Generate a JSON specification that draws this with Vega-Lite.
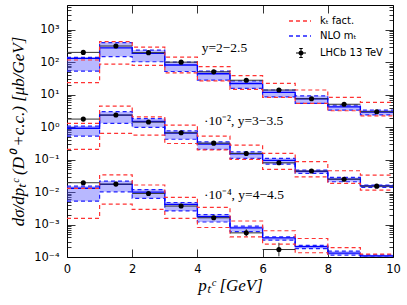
{
  "$schema": "https://vega.github.io/schema/vega-lite/v6.json",
  "width": 326,
  "height": 252,
  "autosize": {"type": "none"},
  "padding": {"left": 67, "top": 5, "right": 14, "bottom": 48},
  "background": "white",
  "data": {"values": [
    {"g": 1, "x0": 0, "x1": 1, "xc": 0.5, "d": 204, "dlo": 190, "dhi": 219, "lo": 54.3, "hi": 143.5, "c": 134, "rlo": 23.7, "rhi": 118.6},
    {"g": 1, "x0": 1, "x1": 2, "xc": 1.5, "d": 321, "dlo": 300, "dhi": 342, "lo": 151, "hi": 407, "c": 282, "rlo": 89.1, "rhi": 437},
    {"g": 1, "x0": 2, "x1": 3, "xc": 2.5, "d": 200, "dlo": 187, "dhi": 213, "lo": 105, "hi": 240, "c": 191, "rlo": 81.3, "rhi": 295},
    {"g": 1, "x0": 3, "x1": 4, "xc": 3.5, "d": 102, "dlo": 95.5, "dhi": 109, "lo": 52.5, "hi": 102, "c": 83.2, "rlo": 47.9, "rhi": 145},
    {"g": 1, "x0": 4, "x1": 5, "xc": 4.5, "d": 51.3, "dlo": 48, "dhi": 55, "lo": 28.6, "hi": 54.3, "c": 44.7, "rlo": 26.9, "rhi": 74.1},
    {"g": 1, "x0": 5, "x1": 6, "xc": 5.5, "d": 28.2, "dlo": 26.4, "dhi": 30.1, "lo": 15.8, "hi": 26.9, "c": 22.4, "rlo": 14.8, "rhi": 38.9},
    {"g": 1, "x0": 6, "x1": 7, "xc": 6.5, "d": 14.1, "dlo": 13.2, "dhi": 15.1, "lo": 8.71, "hi": 14.1, "c": 12.0, "rlo": 8.32, "rhi": 22.6},
    {"g": 1, "x0": 7, "x1": 8, "xc": 7.5, "d": 7.59, "dlo": 7.1, "dhi": 8.1, "lo": 5.5, "hi": 9.33, "c": 7.59, "rlo": 5.5, "rhi": 14.1},
    {"g": 1, "x0": 8, "x1": 9, "xc": 8.5, "d": 5.13, "dlo": 4.8, "dhi": 5.5, "lo": 3.39, "hi": 4.79, "c": 4.27, "rlo": 3.24, "rhi": 8.32},
    {"g": 1, "x0": 9, "x1": 10, "xc": 9.5, "d": 3.02, "dlo": 2.83, "dhi": 3.23, "lo": 2.4, "hi": 3.39, "c": 2.95, "rlo": 2.24, "rhi": 5.89},
    {"g": 1, "x0": 10, "lo": 2.4, "hi": 3.39, "c": 2.95, "rlo": 2.24, "rhi": 5.89},
    {"g": 2, "x0": 0, "x1": 1, "xc": 0.5, "d": 1.79, "dlo": 1.67, "dhi": 1.91, "lo": 0.537, "hi": 1.09, "c": 0.933, "rlo": 0.209, "rhi": 1.32},
    {"g": 2, "x0": 1, "x1": 2, "xc": 1.5, "d": 2.38, "dlo": 2.22, "dhi": 2.54, "lo": 1.32, "hi": 3.02, "c": 2.38, "rlo": 0.646, "rhi": 4.51},
    {"g": 2, "x0": 2, "x1": 3, "xc": 2.5, "d": 1.45, "dlo": 1.35, "dhi": 1.55, "lo": 1.0, "hi": 1.86, "c": 1.51, "rlo": 0.575, "rhi": 2.09},
    {"g": 2, "x0": 3, "x1": 4, "xc": 3.5, "d": 0.676, "dlo": 0.63, "dhi": 0.72, "lo": 0.427, "hi": 0.776, "c": 0.661, "rlo": 0.316, "rhi": 1.17},
    {"g": 2, "x0": 4, "x1": 5, "xc": 4.5, "d": 0.324, "dlo": 0.302, "dhi": 0.346, "lo": 0.209, "hi": 0.355, "c": 0.302, "rlo": 0.2, "rhi": 0.537},
    {"g": 2, "x0": 5, "x1": 6, "xc": 5.5, "d": 0.156, "dlo": 0.146, "dhi": 0.167, "lo": 0.11, "hi": 0.175, "c": 0.151, "rlo": 0.102, "rhi": 0.282},
    {"g": 2, "x0": 6, "x1": 7, "xc": 6.5, "d": 0.0804, "dlo": 0.075, "dhi": 0.086, "lo": 0.0731, "hi": 0.11, "c": 0.0955, "rlo": 0.0501, "rhi": 0.156},
    {"g": 2, "x0": 7, "x1": 8, "xc": 7.5, "d": 0.0447, "dlo": 0.0418, "dhi": 0.0478, "lo": 0.038, "hi": 0.0479, "c": 0.0437, "rlo": 0.0295, "rhi": 0.0871},
    {"g": 2, "x0": 8, "x1": 9, "xc": 8.5, "d": 0.0251, "dlo": 0.0235, "dhi": 0.0268, "lo": 0.0209, "hi": 0.0284, "c": 0.0251, "rlo": 0.0186, "rhi": 0.0457},
    {"g": 2, "x0": 9, "x1": 10, "xc": 9.5, "d": 0.0153, "dlo": 0.0143, "dhi": 0.0164, "lo": 0.014, "hi": 0.0166, "c": 0.0155, "rlo": 0.0115, "rhi": 0.0335},
    {"g": 2, "x0": 10, "lo": 0.014, "hi": 0.0166, "c": 0.0155, "rlo": 0.0115, "rhi": 0.0335},
    {"g": 3, "x0": 0, "x1": 1, "xc": 0.5, "d": 0.0195, "dlo": 0.0182, "dhi": 0.0209, "lo": 0.00525, "hi": 0.0153, "c": 0.0132, "rlo": 0.00155, "rhi": 0.013},
    {"g": 3, "x0": 1, "x1": 2, "xc": 1.5, "d": 0.0177, "dlo": 0.0165, "dhi": 0.0189, "lo": 0.0102, "hi": 0.0219, "c": 0.0174, "rlo": 0.00427, "rhi": 0.0342},
    {"g": 3, "x0": 2, "x1": 3, "xc": 2.5, "d": 0.00912, "dlo": 0.0085, "dhi": 0.0098, "lo": 0.00646, "hi": 0.012, "c": 0.01, "rlo": 0.00295, "rhi": 0.0166},
    {"g": 3, "x0": 3, "x1": 4, "xc": 3.5, "d": 0.00372, "dlo": 0.00345, "dhi": 0.004, "lo": 0.00263, "hi": 0.00479, "c": 0.00417, "rlo": 0.00155, "rhi": 0.00692},
    {"g": 3, "x0": 4, "x1": 5, "xc": 4.5, "d": 0.00162, "dlo": 0.00148, "dhi": 0.00177, "lo": 0.0012, "hi": 0.00204, "c": 0.00174, "rlo": 0.000813, "rhi": 0.00339},
    {"g": 3, "x0": 5, "x1": 6, "xc": 5.5, "d": 0.000555, "dlo": 0.000437, "dhi": 0.000724, "lo": 0.000603, "hi": 0.000891, "c": 0.000794, "rlo": 0.000417, "rhi": 0.00129},
    {"g": 3, "x0": 6, "x1": 7, "xc": 6.5, "d": 0.00017, "dlo": 0.000105, "dhi": 0.000275, "lo": 0.000331, "hi": 0.000417, "c": 0.000389, "rlo": 0.000251, "rhi": 0.000646},
    {"g": 3, "x0": 7, "x1": 8, "lo": 0.000182, "hi": 0.000229, "c": 0.000209, "rlo": 0.000135, "rhi": 0.000372},
    {"g": 3, "x0": 8, "x1": 9, "lo": 0.000115, "hi": 0.000151, "c": 0.000132, "rlo": 0.00009, "rhi": 0.000195},
    {"g": 3, "x0": 9, "x1": 10, "lo": 0.0001, "hi": 0.000117, "c": 0.000108, "rlo": 0.00008, "rhi": 0.000123},
    {"g": 3, "x0": 10, "lo": 0.0001, "hi": 0.000117, "c": 0.000108, "rlo": 0.00008, "rhi": 0.000123}
  ]},
  "config": {
    "view": {"stroke": "black", "strokeWidth": 1},
    "axis": {"domain": false, "grid": false, "tickColor": "black", "tickWidth": 0.8, "labelColor": "black", "labelFont": "DejaVu Sans", "labelFontSize": 11.5, "titleFont": "Liberation Serif", "titleFontStyle": "italic", "titleFontWeight": "normal", "titleFontSize": 17, "titleColor": "black"},
    "legend": {"labelFont": "DejaVu Sans", "labelFontSize": 10, "labelColor": "black", "padding": 0}
  },
  "resolve": {"axis": {"x": "independent", "y": "independent"}, "scale": {"x": "shared", "y": "shared"}},
  "layer": [
    {
      "transform": [{"filter": "isValid(datum.x1)"}],
      "mark": {"type": "rect", "color": "#5555ff", "opacity": 0.42, "clip": true},
      "encoding": {
        "x": {"field": "x0", "type": "quantitative", "scale": {"domain": [0, 10], "nice": false},
          "axis": {"orient": "bottom", "values": [0, 2, 4, 6, 8, 10], "tickSize": -8, "labelPadding": 14, "labelFlush": false, "title": "pₜᶜ  [GeV]", "titlePadding": 3}},
        "x2": {"field": "x1"},
        "y": {"field": "lo", "type": "quantitative", "scale": {"type": "log", "domain": [0.0001, 5900], "nice": false},
          "axis": {"orient": "left",
            "values": [0.0001, 0.0002, 0.0003, 0.0004, 0.0005, 0.0006, 0.0007, 0.0008, 0.0009, 0.001, 0.002, 0.003, 0.004, 0.005, 0.006, 0.007, 0.008, 0.009, 0.01, 0.02, 0.03, 0.04, 0.05, 0.06, 0.07, 0.08, 0.09, 0.1, 0.2, 0.3, 0.4, 0.5, 0.6, 0.7, 0.8, 0.9, 1, 2, 3, 4, 5, 6, 7, 8, 9, 10, 20, 30, 40, 50, 60, 70, 80, 90, 100, 200, 300, 400, 500, 600, 700, 800, 900, 1000, 2000, 3000, 4000, 5000],
            "tickSize": {"condition": {"test": "abs(log(datum.value)/LN10 - round(log(datum.value)/LN10)) < 0.01", "value": -8}, "value": -4},
            "labelExpr": "abs(log(datum.value)/LN10 - round(log(datum.value)/LN10)) < 0.01 ? '10' + replace(replace(replace(replace(replace(replace(toString(round(log(datum.value)/LN10)), '-', '⁻'), '0', '⁰'), '1', '¹'), '2', '²'), '3', '³'), '4', '⁴') : ''",
            "labelPadding": 16, "labelOverlap": false, "labelFlush": false, "labelBound": false,
            "title": "dσ/dpₜᶜ (D⁰ +c.c.) [μb/GeV]", "titlePadding": 6}},
        "y2": {"field": "hi"}
      }
    },
    {
      "mark": {"type": "line", "interpolate": "step-after", "strokeDash": [4, 3], "strokeWidth": 1.2, "clip": true},
      "encoding": {
        "x": {"field": "x0", "type": "quantitative", "scale": {"domain": [0, 10], "nice": false}, "axis": null},
        "y": {"field": "hi", "type": "quantitative", "scale": {"type": "log", "domain": [0.0001, 5900], "nice": false}, "axis": null},
        "detail": {"field": "g"},
        "color": {"datum": "NLO mT", "scale": {"domain": ["kT fact.", "NLO mT"], "range": ["#ff3333", "#1f1fff"]},
          "legend": {"orient": "none", "legendX": 226.5, "legendY": 9.5, "symbolType": "M-2,0H2", "symbolSize": 121, "symbolDash": [4, 3], "symbolStrokeWidth": 1.3, "labelOffset": 13.5, "rowPadding": 3, "title": null, "labelExpr": "datum.label == 'kT fact.' ? 'kₜ fact.' : 'NLO mₜ'"}}
      }
    },
    {
      "mark": {"type": "line", "interpolate": "step-after", "strokeDash": [4, 3], "strokeWidth": 1.2, "clip": true},
      "encoding": {
        "x": {"field": "x0", "type": "quantitative", "scale": {"domain": [0, 10], "nice": false}, "axis": null},
        "y": {"field": "lo", "type": "quantitative", "scale": {"type": "log", "domain": [0.0001, 5900], "nice": false}, "axis": null},
        "detail": {"field": "g"},
        "color": {"datum": "NLO mT"}
      }
    },
    {
      "mark": {"type": "line", "interpolate": "step-after", "color": "#0000ff", "strokeWidth": 1.3, "clip": true},
      "encoding": {
        "x": {"field": "x0", "type": "quantitative", "scale": {"domain": [0, 10], "nice": false},
          "axis": {"orient": "top", "values": [0, 2, 4, 6, 8, 10], "tickSize": -8, "labels": false, "title": null}},
        "y": {"field": "c", "type": "quantitative", "scale": {"type": "log", "domain": [0.0001, 5900], "nice": false},
          "axis": {"orient": "right",
            "values": [0.0001, 0.0002, 0.0003, 0.0004, 0.0005, 0.0006, 0.0007, 0.0008, 0.0009, 0.001, 0.002, 0.003, 0.004, 0.005, 0.006, 0.007, 0.008, 0.009, 0.01, 0.02, 0.03, 0.04, 0.05, 0.06, 0.07, 0.08, 0.09, 0.1, 0.2, 0.3, 0.4, 0.5, 0.6, 0.7, 0.8, 0.9, 1, 2, 3, 4, 5, 6, 7, 8, 9, 10, 20, 30, 40, 50, 60, 70, 80, 90, 100, 200, 300, 400, 500, 600, 700, 800, 900, 1000, 2000, 3000, 4000, 5000],
            "tickSize": {"condition": {"test": "abs(log(datum.value)/LN10 - round(log(datum.value)/LN10)) < 0.01", "value": -8}, "value": -4},
            "labels": false, "title": null}},
        "detail": {"field": "g"}
      }
    },
    {
      "mark": {"type": "line", "interpolate": "step-after", "strokeDash": [4, 3], "strokeWidth": 1.2, "clip": true},
      "encoding": {
        "x": {"field": "x0", "type": "quantitative", "scale": {"domain": [0, 10], "nice": false}, "axis": null},
        "y": {"field": "rhi", "type": "quantitative", "scale": {"type": "log", "domain": [0.0001, 5900], "nice": false}, "axis": null},
        "detail": {"field": "g"},
        "color": {"datum": "kT fact."}
      }
    },
    {
      "mark": {"type": "line", "interpolate": "step-after", "strokeDash": [4, 3], "strokeWidth": 1.2, "clip": true},
      "encoding": {
        "x": {"field": "x0", "type": "quantitative", "scale": {"domain": [0, 10], "nice": false}, "axis": null},
        "y": {"field": "rlo", "type": "quantitative", "scale": {"type": "log", "domain": [0.0001, 5900], "nice": false}, "axis": null},
        "detail": {"field": "g"},
        "color": {"datum": "kT fact."}
      }
    },
    {
      "transform": [{"filter": "isValid(datum.d)"}],
      "mark": {"type": "rule", "color": "#333333", "strokeWidth": 1, "clip": true},
      "encoding": {
        "x": {"field": "x0", "type": "quantitative", "scale": {"domain": [0, 10], "nice": false}, "axis": null},
        "x2": {"field": "x1"},
        "y": {"field": "d", "type": "quantitative", "scale": {"type": "log", "domain": [0.0001, 5900], "nice": false}, "axis": null}
      }
    },
    {
      "transform": [{"filter": "isValid(datum.d)"}],
      "mark": {"type": "rule", "color": "#333333", "strokeWidth": 1, "clip": true},
      "encoding": {
        "x": {"field": "xc", "type": "quantitative", "scale": {"domain": [0, 10], "nice": false}, "axis": null},
        "y": {"field": "dlo", "type": "quantitative", "scale": {"type": "log", "domain": [0.0001, 5900], "nice": false}, "axis": null},
        "y2": {"field": "dhi"}
      }
    },
    {
      "transform": [{"filter": "isValid(datum.d)"}],
      "mark": {"type": "point", "shape": "circle", "filled": true, "color": "black", "opacity": 1, "size": 26, "clip": true},
      "encoding": {
        "x": {"field": "xc", "type": "quantitative", "scale": {"domain": [0, 10], "nice": false}, "axis": null},
        "y": {"field": "d", "type": "quantitative", "scale": {"type": "log", "domain": [0.0001, 5900], "nice": false}, "axis": null}
      }
    },
    {
      "transform": [{"filter": "false"}],
      "mark": {"type": "point", "filled": true, "color": "black", "opacity": 1, "size": 100},
      "encoding": {
        "x": {"field": "xc", "type": "quantitative", "scale": {"domain": [0, 10], "nice": false}, "axis": null},
        "y": {"field": "d", "type": "quantitative", "scale": {"type": "log", "domain": [0.0001, 5900], "nice": false}, "axis": null},
        "shape": {"datum": "LHCb 13 TeV",
          "scale": {"domain": ["LHCb 13 TeV"], "range": ["M-1,-0.1H1V0.1H-1ZM-0.1,-1H0.1V1H-0.1ZM-0.35,-1H0.35V-0.8H-0.35ZM-0.35,0.8H0.35V1H-0.35ZM0.5,0A0.5,0.5,0,1,1,-0.5,0A0.5,0.5,0,1,1,0.5,0Z"]},
          "legend": {"orient": "none", "legendX": 228, "legendY": 42, "symbolSize": 100, "symbolFillColor": "black", "labelOffset": 13, "title": null}}
      }
    },
    {
      "data": {"values": [{}]},
      "mark": {"type": "text", "text": "y=2−2.5", "align": "left", "baseline": "middle", "font": "Liberation Serif", "fontSize": 13.5, "color": "black"},
      "encoding": {
        "x": {"datum": 4.13, "type": "quantitative", "scale": {"domain": [0, 10], "nice": false}, "axis": null},
        "y": {"datum": 278, "type": "quantitative", "scale": {"type": "log", "domain": [0.0001, 5900], "nice": false}, "axis": null}
      }
    },
    {
      "data": {"values": [{}]},
      "mark": {"type": "text", "text": "·10⁻², y=3−3.5", "align": "left", "baseline": "middle", "font": "Liberation Serif", "fontSize": 13.5, "color": "black"},
      "encoding": {
        "x": {"datum": 4.2, "type": "quantitative", "scale": {"domain": [0, 10], "nice": false}, "axis": null},
        "y": {"datum": 1.55, "type": "quantitative", "scale": {"type": "log", "domain": [0.0001, 5900], "nice": false}, "axis": null}
      }
    },
    {
      "data": {"values": [{}]},
      "mark": {"type": "text", "text": "·10⁻⁴, y=4−4.5", "align": "left", "baseline": "middle", "font": "Liberation Serif", "fontSize": 13.5, "color": "black"},
      "encoding": {
        "x": {"datum": 4.2, "type": "quantitative", "scale": {"domain": [0, 10], "nice": false}, "axis": null},
        "y": {"datum": 0.00807, "type": "quantitative", "scale": {"type": "log", "domain": [0.0001, 5900], "nice": false}, "axis": null}
      }
    }
  ]
}
